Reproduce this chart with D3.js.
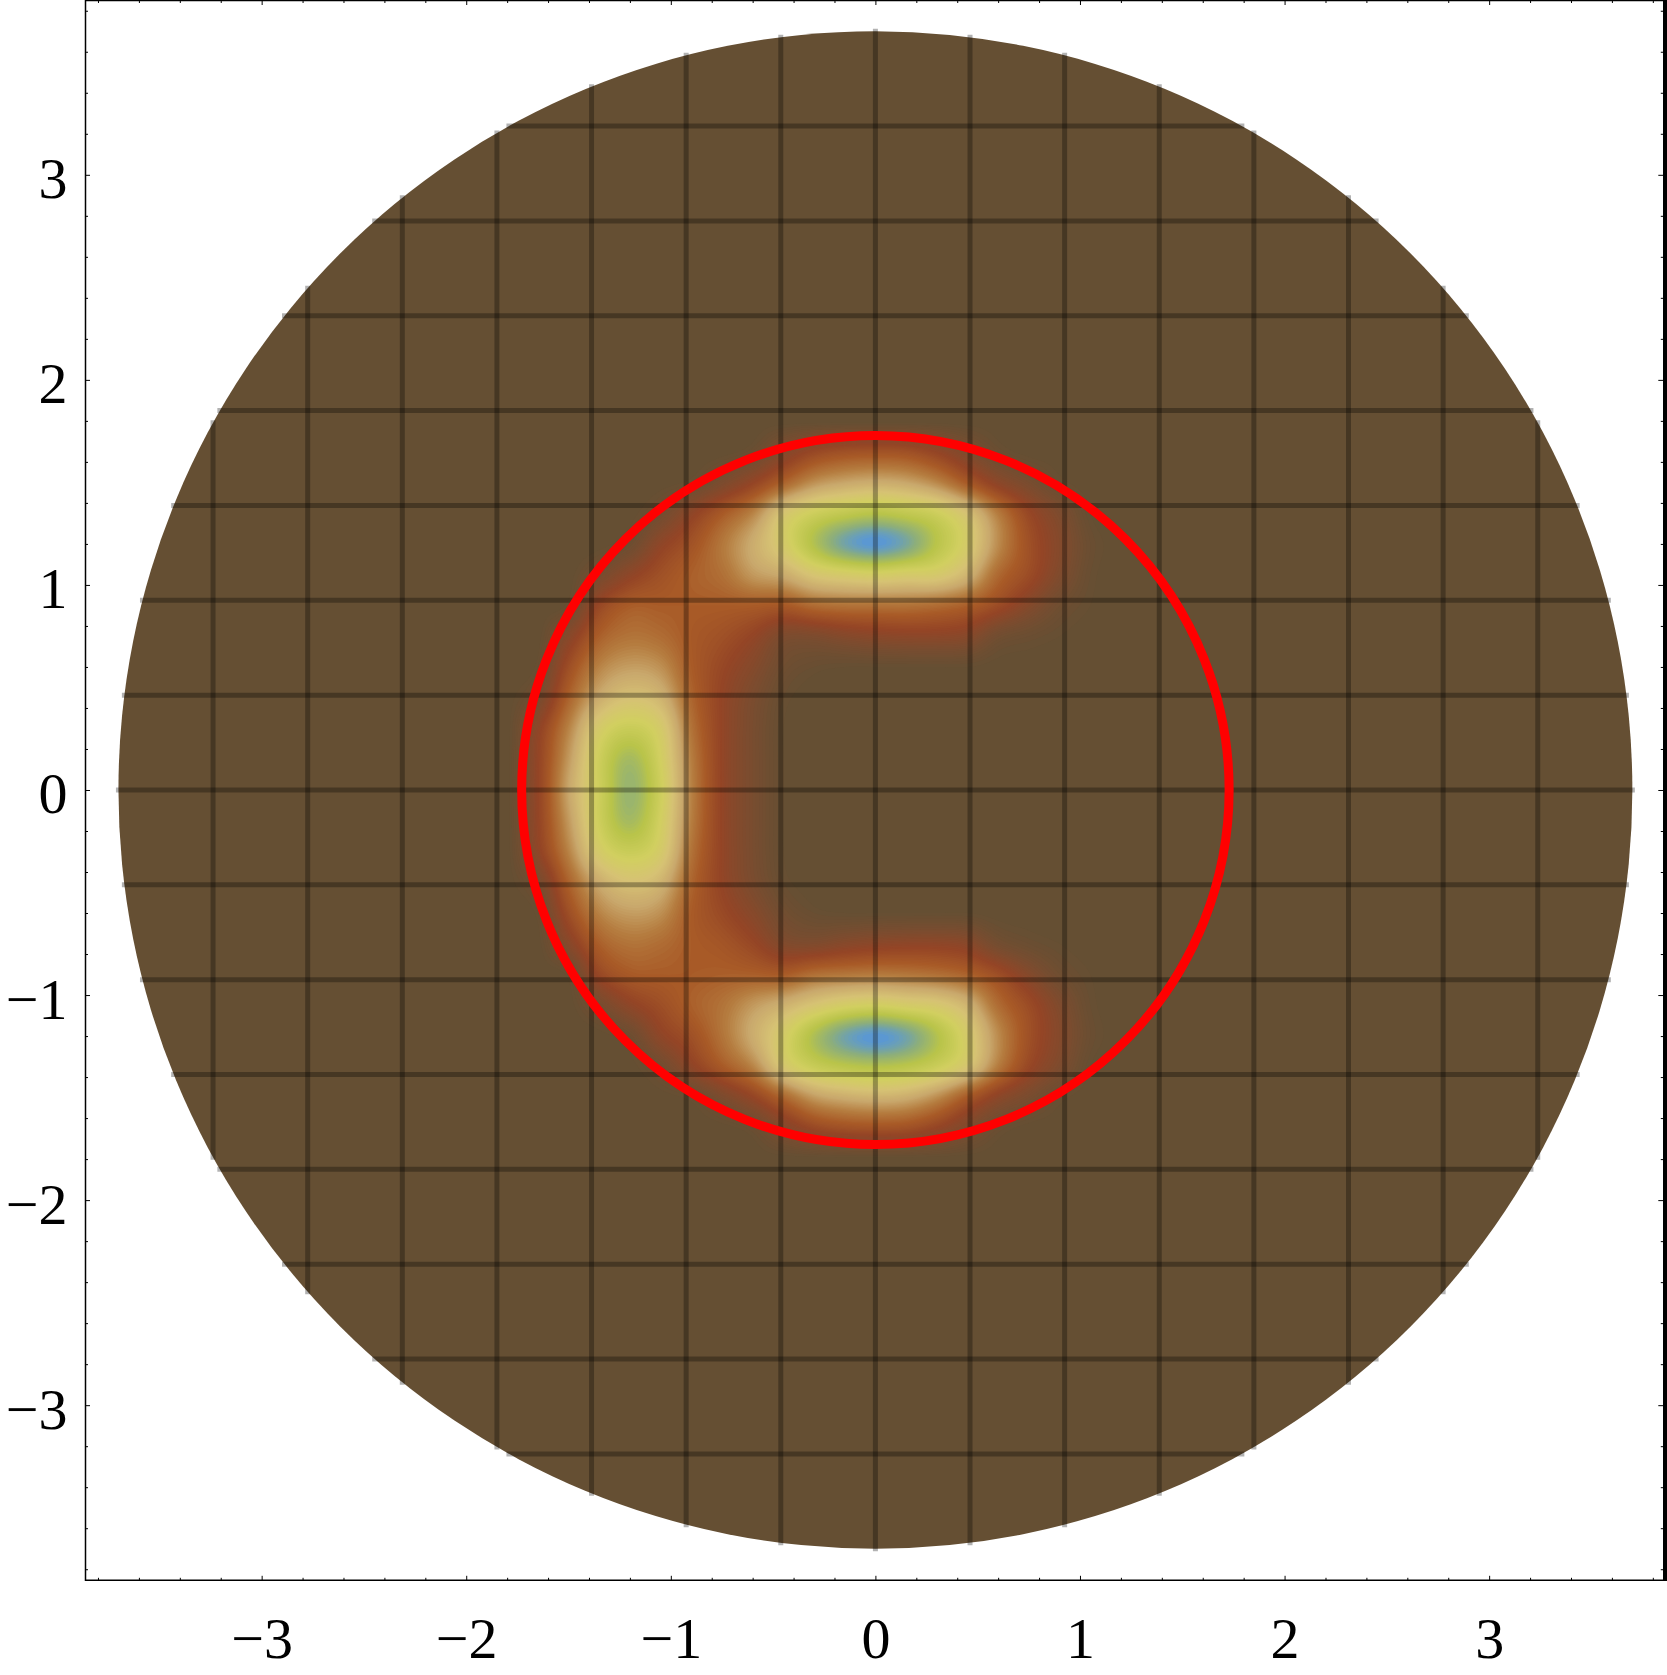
<!DOCTYPE html>
<html>
<head>
<meta charset="utf-8">
<style>
  html, body { margin: 0; padding: 0; background: #fff; }
  svg { display: block; }
  text { font-family: "Liberation Serif", serif; font-size: 58px; fill: #000; }
</style>
<script src="https://cdnjs.cloudflare.com/ajax/libs/d3/7.8.5/d3.min.js"></script>
</head>
<body>
<div id="chart"></div>
<script>
// tick values
var majorTicks = [-3, -2, -1, 0, 1, 2, 3];
var minorTicks = [-3.8, -3.6, -3.4, -3.2, -2.8, -2.6, -2.4, -2.2, -1.8, -1.6, -1.4, -1.2, -0.8, -0.6, -0.4, -0.2,
  0.2, 0.4, 0.6, 0.8, 1.2, 1.4, 1.6, 1.8, 2.2, 2.4, 2.6, 2.8, 3.2, 3.4, 3.6, 3.8];

// disk and critical circle radii, mesh line positions
var diskRadius = 3.7;
var circleRadius = 1.729;
var meshLines = [-3.2375, -2.775, -2.3125, -1.85, -1.3875, -0.925, -0.4625, 0, 0.4625, 0.925, 1.3875, 1.85, 2.3125, 2.775, 3.2375];

// density, on a coarse lattice
var fieldX = [-1.8, -1.65, -1.5, -1.35, -1.2, -1.05, -0.9, -0.75, -0.6, -0.45, -0.3, -0.15, 0, 0.15, 0.3, 0.45, 0.6, 0.75, 0.9, 1.05, 1.2];
var fieldY = [1.8, 1.65, 1.5, 1.35, 1.2, 1.05, 0.9, 0.75, 0.6, 0.45, 0.3, 0.15, 0, -0.15, -0.3, -0.45, -0.6, -0.75, -0.9, -1.05, -1.2, -1.35, -1.5, -1.65, -1.8];
var fieldValues = [
  [0, 0, 0, 0, 0, 0, 0, 0, 0, 0, 0, 0, 0, 0, 0, 0, 0, 0, 0, 0, 0],
  [0, 0, 0, 0, 0, 0, 0, 0, .03, .13, .22, .26, .27, .26, .2, .11, .03, 0, 0, 0, 0],
  [0, 0, 0, 0, 0, 0, .02, .1, .2, .33, .45, .5, .52, .5, .43, .3, .17, .09, .02, 0, 0],
  [0, 0, 0, 0, 0, .06, .18, .3, .42, .62, .72, .77, .8, .77, .72, .6, .4, .22, .11, .01, 0],
  [0, 0, 0, 0, .04, .18, .27, .39, .52, .66, .82, .95, 1, .94, .8, .66, .44, .26, .14, .03, 0],
  [0, 0, 0, .08, .18, .26, .32, .37, .47, .52, .62, .66, .68, .66, .65, .55, .35, .24, .12, .02, 0],
  [0, 0, .02, .22, .31, .31, .31, .31, .31, .3, .36, .38, .38, .38, .36, .32, .24, .14, .05, .01, 0],
  [0, 0, .15, .32, .38, .36, .3, .26, .2, .11, .11, .14, .16, .17, .17, .15, .06, .03, .01, 0, 0],
  [0, .02, .25, .42, .48, .45, .31, .22, .14, .05, .02, .01, .01, .01, .01, .01, 0, 0, 0, 0, 0],
  [0, .08, .33, .52, .6, .55, .34, .2, .1, .02, 0, 0, 0, 0, 0, 0, 0, 0, 0, 0, 0],
  [0, .18, .42, .66, .74, .66, .38, .2, .09, .01, 0, 0, 0, 0, 0, 0, 0, 0, 0, 0, 0],
  [0, .2, .47, .72, .85, .7, .41, .2, .09, .01, 0, 0, 0, 0, 0, 0, 0, 0, 0, 0, 0],
  [0, .2, .5, .72, .88, .72, .42, .2, .09, .01, 0, 0, 0, 0, 0, 0, 0, 0, 0, 0, 0],
  [0, .2, .47, .72, .85, .7, .41, .2, .09, .01, 0, 0, 0, 0, 0, 0, 0, 0, 0, 0, 0],
  [0, .18, .42, .66, .74, .66, .38, .2, .09, .01, 0, 0, 0, 0, 0, 0, 0, 0, 0, 0, 0],
  [0, .08, .33, .52, .6, .55, .34, .2, .1, .02, 0, 0, 0, 0, 0, 0, 0, 0, 0, 0, 0],
  [0, .02, .25, .42, .48, .45, .31, .23, .15, .06, .02, .01, .01, .01, .01, .01, 0, 0, 0, 0, 0],
  [0, 0, .15, .32, .38, .36, .31, .28, .22, .13, .12, .15, .17, .18, .18, .16, .07, .03, .01, 0, 0],
  [0, 0, .02, .22, .3, .31, .31, .32, .32, .31, .37, .39, .4, .39, .37, .33, .25, .14, .05, .01, 0],
  [0, 0, 0, .08, .18, .25, .32, .38, .47, .54, .62, .68, .7, .67, .64, .55, .36, .24, .12, .02, 0],
  [0, 0, 0, 0, .04, .18, .26, .38, .52, .67, .83, .95, 1, .95, .82, .66, .44, .26, .14, .03, 0],
  [0, 0, 0, 0, 0, .06, .18, .3, .42, .63, .74, .79, .81, .79, .73, .62, .4, .22, .11, .01, 0],
  [0, 0, 0, 0, 0, 0, .02, .1, .2, .34, .47, .52, .54, .52, .44, .3, .17, .09, .02, 0, 0],
  [0, 0, 0, 0, 0, 0, 0, 0, .03, .13, .22, .26, .27, .26, .2, .11, .03, 0, 0, 0, 0],
  [0, 0, 0, 0, 0, 0, 0, 0, 0, 0, 0, 0, 0, 0, 0, 0, 0, 0, 0, 0, 0]
];

// colour stops for the density
var colorStops = [0, 0.1, 0.2, 0.3, 0.4, 0.5, 0.6, 0.7, 0.8, 0.9, 1];
var colorValues = ['#654f33', '#7c4c2f', '#944526', '#a85a27', '#b57c3f', '#c9a86c', '#d6c274', '#d1cf60', '#b9c44a', '#8cae7c', '#5596dc'];

var width = 1667;
var height = 1675;

var xScale = d3.scaleLinear().domain([-3.861, 3.861]).range([85.5, 1665.3]);
var yScale = d3.scaleLinear().domain([-3.854, 3.85]).range([1580.3, 0.5]);
var colorScale = d3.scaleLinear().domain(colorStops).range(colorValues).clamp(true);

var svg = d3.select('#chart').append('svg').attr('width', width).attr('height', height);

// ディスク
svg.append('ellipse')
  .attr('cx', xScale(0)).attr('cy', yScale(0))
  .attr('rx', xScale(diskRadius) - xScale(0))
  .attr('ry', yScale(0) - yScale(diskRadius))
  .attr('fill', colorValues[0]);

// smooth the lattice for shading only (Catmull-Rom), then contour it
var sub = 8;
function catmull(p0, p1, p2, p3, t) {
  return 0.5 * (2 * p1 + (p2 - p0) * t + (2 * p0 - 5 * p1 + 4 * p2 - p3) * t * t + (3 * p1 - p0 - 3 * p2 + p3) * t * t * t);
}
function resample(a) {
  var out = [];
  for (var i = 0; i < a.length - 1; i++) {
    for (var j = 0; j < sub; j++) {
      out.push(catmull(a[Math.max(i - 1, 0)], a[i], a[i + 1], a[Math.min(i + 2, a.length - 1)], j / sub));
    }
  }
  out.push(a[a.length - 1]);
  return out;
}
var byRow = fieldValues.map(resample);
var gridW = byRow[0].length;
var columns = d3.range(gridW).map(function(i) {
  return resample(byRow.map(function(r) { return r[i]; }));
});
var gridH = columns[0].length;
var grid = new Array(gridW * gridH);
for (var iy = 0; iy < gridH; iy++) {
  for (var ix = 0; ix < gridW; ix++) {
    grid[iy * gridW + ix] = Math.max(0, Math.min(1, columns[ix][iy]));
  }
}

var stepX = (fieldX[1] - fieldX[0]) / sub;
var stepY = (fieldY[1] - fieldY[0]) / sub;
var contours = d3.contours().size([gridW, gridH]).thresholds(d3.range(0.01, 1, 0.01))(grid);
var contourPath = d3.geoPath(d3.geoTransform({
  point: function(px, py) {
    this.stream.point(xScale(fieldX[0] + (px - 0.5) * stepX), yScale(fieldY[0] + (py - 0.5) * stepY));
  }
}));

svg.append('g').attr('class', 'density')
  .selectAll('path').data(contours).enter().append('path')
  .attr('d', contourPath)
  .attr('fill', function(d) { return colorScale(d.value); });

// メッシュ線
var mesh = svg.append('g').attr('class', 'mesh')
  .attr('stroke', '#000').attr('stroke-opacity', 0.3).attr('stroke-width', 5).attr('stroke-linecap', 'square');
mesh.selectAll('line.v').data(meshLines).enter().append('line')
  .attr('class', 'v')
  .attr('x1', function(d) { return xScale(d); })
  .attr('x2', function(d) { return xScale(d); })
  .attr('y1', function(d) { return yScale(Math.sqrt(diskRadius * diskRadius - d * d)); })
  .attr('y2', function(d) { return yScale(-Math.sqrt(diskRadius * diskRadius - d * d)); });
mesh.selectAll('line.h').data(meshLines).enter().append('line')
  .attr('class', 'h')
  .attr('y1', function(d) { return yScale(d); })
  .attr('y2', function(d) { return yScale(d); })
  .attr('x1', function(d) { return xScale(-Math.sqrt(diskRadius * diskRadius - d * d)); })
  .attr('x2', function(d) { return xScale(Math.sqrt(diskRadius * diskRadius - d * d)); });

// 赤い円
svg.append('ellipse')
  .attr('cx', xScale(0)).attr('cy', yScale(0))
  .attr('rx', xScale(circleRadius) - xScale(0))
  .attr('ry', yScale(0) - yScale(circleRadius))
  .attr('fill', 'none').attr('stroke', '#ff0000').attr('stroke-width', 9);

// 枠と目盛り
function labelText(d) {
  return d < 0 ? '\u2212' + Math.abs(d) : String(d);
}
function drawAxis(axis, tx, ty) {
  var g = svg.append('g').attr('transform', 'translate(' + tx + ',' + ty + ')').call(axis);
  g.select('.domain').remove();
  g.selectAll('.tick line').attr('stroke', '#000').attr('stroke-width', 1);
  return g;
}
var left = xScale.range()[0];
var right = xScale.range()[1];
var bottom = yScale.range()[0];
var top_ = yScale.range()[1];

// minor
drawAxis(d3.axisBottom(xScale).tickValues(minorTicks).tickSize(-2.5).tickFormat(''), 0, bottom);
drawAxis(d3.axisTop(xScale).tickValues(minorTicks).tickSize(-2.5).tickFormat(''), 0, top_);
drawAxis(d3.axisLeft(yScale).tickValues(minorTicks).tickSize(-2.5).tickFormat(''), left, 0);
drawAxis(d3.axisRight(yScale).tickValues(minorTicks).tickSize(-4.5).tickFormat(''), right, 0);
// major
drawAxis(d3.axisTop(xScale).tickValues(majorTicks).tickSize(-4.5).tickFormat(''), 0, top_);
drawAxis(d3.axisRight(yScale).tickValues(majorTicks).tickSize(-7).tickFormat(''), right, 0);

var xAxisG = drawAxis(d3.axisBottom(xScale).tickValues(majorTicks).tickSize(-4.5).tickFormat(labelText), 0, bottom);
xAxisG.attr('font-family', null).attr('font-size', null);
xAxisG.selectAll('text').attr('y', 78).attr('dy', null).attr('text-anchor', 'middle');

var yAxisG = drawAxis(d3.axisLeft(yScale).tickValues(majorTicks).tickSize(-4.5).tickFormat(labelText), left, 0);
yAxisG.attr('font-family', null).attr('font-size', null);
yAxisG.selectAll('text').attr('x', -18).attr('dy', 23).attr('text-anchor', 'end');

svg.append('path').attr('fill', 'none').attr('stroke', '#000').attr('stroke-width', 1.5)
  .attr('d', 'M' + right + ',' + top_ + 'H' + left + 'V' + bottom + 'H' + right);
// 右の枠線は太い
svg.append('line').attr('stroke', '#000').attr('stroke-width', 4)
  .attr('x1', 1665).attr('x2', 1665).attr('y1', 0).attr('y2', bottom + 0.75);
</script>
</body>
</html>
